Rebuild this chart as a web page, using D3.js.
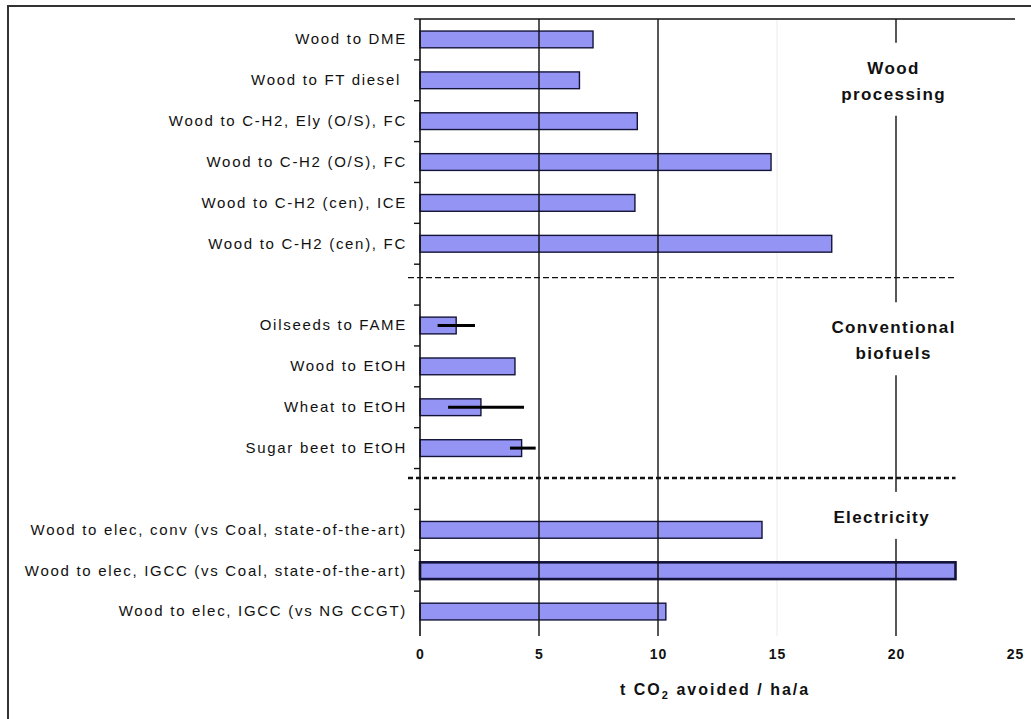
<!DOCTYPE html>
<html>
<head>
<meta charset="utf-8">
<script src="https://cdn.jsdelivr.net/npm/d3@7"></script>
<style>
  body { margin: 0; background: #fff; }
  svg { display: block; font-family: 'Liberation Sans', Arial, sans-serif; }
  .cat text { font-size: 15px; fill: #111; letter-spacing: 1.7px; white-space: pre; }
  .xaxis text { font-size: 14px; font-weight: bold; fill: #111; letter-spacing: 1px; }
  .group { font-size: 17px; font-weight: bold; fill: #111; letter-spacing: 1.4px; }
</style>
</head>
<body>
<div id="chart"></div>
<script>
// rows, top to bottom; empty strings are the spacer rows between groups
const labels = [
  'Wood to DME',
  'Wood to FT diesel ',
  'Wood to C-H2, Ely (O/S), FC',
  'Wood to C-H2 (O/S), FC',
  'Wood to C-H2 (cen), ICE',
  'Wood to C-H2 (cen), FC',
  '',
  'Oilseeds to FAME',
  'Wood to EtOH',
  'Wheat to EtOH',
  'Sugar beet to EtOH',
  '',
  'Wood to elec, conv (vs Coal, state-of-the-art)',
  'Wood to elec, IGCC (vs Coal, state-of-the-art)',
  'Wood to elec, IGCC (vs NG CCGT)'
]
const values = [7.27, 6.7, 9.13, 14.75, 9.03, 17.3, null, 1.52, 3.99, 2.56, 4.27, null, 14.37, 22.5, 10.33]
const errLow = [null, null, null, null, null, null, null, 0.74, null, 1.18, 3.78, null, null, null, null]
const errHigh = [null, null, null, null, null, null, null, 2.31, null, 4.37, 4.86, null, null, null, null]
const xTicks = [0, 5, 10, 15, 20, 25]
const gridValues = [5, 10, 20]
const groupNames = [['Wood', 'processing'], ['Conventional', 'biofuels'], ['Electricity']]
const groupStart = [0, 7, 12]
const separatorRows = [6, 11]
const separatorEnd = 22.5

const width = 1031
const height = 719
const margin = { top: 19, left: 420, right: 16, bottom: 87 }

const svg = d3.select('#chart').append('svg')
  .attr('width', width)
  .attr('height', height)

// outer frame (only top and left edges are inside the picture)
svg.append('path')
  .attr('d', `M8,${height}V6H${width}`)
  .attr('fill', 'none')
  .attr('stroke', '#333')
  .attr('stroke-width', 2)

const x = d3.scaleLinear()
  .domain([0, 25])
  .range([margin.left, width - margin.right])

const y = d3.scaleBand()
  .domain(d3.range(labels.length))
  .range([margin.top, height - margin.bottom])

const bw = y.bandwidth()
const barH = bw * 0.41
const axisBottomY = height - margin.bottom + 4

// faint line at 15
svg.append('line')
  .attr('x1', x(15)).attr('x2', x(15))
  .attr('y1', margin.top).attr('y2', axisBottomY)
  .attr('stroke', '#ececec')

// bars
const rows = labels.map((l, i) => ({ label: l, value: values[i], lo: errLow[i], hi: errHigh[i], i }))
svg.append('g')
  .selectAll('rect')
  .data(rows.filter(d => d.value !== null))
  .join('rect')
  .attr('x', x(0))
  .attr('y', d => y(d.i) + (bw - barH) / 2)
  .attr('width', d => x(d.value) - x(0))
  .attr('height', barH)
  .attr('fill', '#9494f4')
  .attr('stroke', '#14143a')
  .attr('stroke-width', d => d.value > 20 ? 2.6 : 1.4)

// error bars
svg.append('g')
  .selectAll('line')
  .data(rows.filter(d => d.lo !== null))
  .join('line')
  .attr('x1', d => x(d.lo))
  .attr('x2', d => x(d.hi))
  .attr('y1', d => y(d.i) + bw / 2)
  .attr('y2', d => y(d.i) + bw / 2)
  .attr('stroke', '#000')
  .attr('stroke-width', 3)

// vertical grid lines
svg.append('g')
  .selectAll('line')
  .data(gridValues)
  .join('line')
  .attr('x1', d => x(d)).attr('x2', d => x(d))
  .attr('y1', margin.top).attr('y2', axisBottomY)
  .attr('stroke', '#111')
  .attr('stroke-width', 1.4)

// group separators
svg.append('g')
  .selectAll('line')
  .data(separatorRows)
  .join('line')
  .attr('x1', x(0) - 12)
  .attr('x2', x(separatorEnd))
  .attr('y1', (d, i) => y(d) + bw * (i === 0 ? 0.33 : 0.23))
  .attr('y2', (d, i) => y(d) + bw * (i === 0 ? 0.33 : 0.23))
  .attr('stroke', '#111')
  .attr('stroke-width', (d, i) => i === 0 ? 1.3 : 2.6)
  .attr('stroke-dasharray', (d, i) => i === 0 ? '6,3' : '5,3')

// group labels, with a white box that cuts the 20 grid line
const groupOffset = [1.34, 0.69, 0.33] // in bands, baseline of the first line
const gl = svg.append('g')
groupNames.forEach((lines, gi) => {
  const g = gl.append('g')
  const t = g.append('text')
    .attr('class', 'group')
    .attr('text-anchor', 'middle')
  lines.forEach((s, li) => {
    t.append('tspan')
      .attr('x', gi === 2 ? x(19.4) : x(19.9))
      .attr('y', y(groupStart[gi]) + bw * groupOffset[gi] + li * 26)
      .text(s)
  })
  const b = t.node().getBBox()
  g.insert('rect', 'text')
    .attr('x', b.x - 4)
    .attr('y', b.y - 16)
    .attr('width', b.width + 8)
    .attr('height', b.height + 28)
    .attr('fill', '#fff')
})

// top border of the plot
svg.append('line')
  .attr('x1', x(0)).attr('x2', x(25))
  .attr('y1', margin.top).attr('y2', margin.top)
  .attr('stroke', '#111')
  .attr('stroke-width', 1.4)

// y axis line and ticks at band edges
svg.append('line')
  .attr('x1', x(0)).attr('x2', x(0))
  .attr('y1', margin.top).attr('y2', axisBottomY)
  .attr('stroke', '#111')
  .attr('stroke-width', 1.6)
svg.append('g')
  .selectAll('line')
  .data(d3.range(labels.length))
  .join('line')
  .attr('x1', x(0) - 6).attr('x2', x(0))
  .attr('y1', d => y(d)).attr('y2', d => y(d))
  .attr('stroke', '#111')
  .attr('stroke-width', 1.4)

// category labels
svg.append('g')
  .attr('class', 'cat')
  .attr('transform', `translate(${x(0)},0)`)
  .call(d3.axisLeft(y).tickSize(0).tickPadding(13).tickFormat(i => labels[i]))
  .call(g => g.select('.domain').remove())

// x axis labels
svg.append('g')
  .attr('class', 'xaxis')
  .attr('transform', `translate(0,${axisBottomY + 10})`)
  .call(d3.axisBottom(x).tickValues(xTicks).tickSize(0).tickPadding(3))
  .call(g => g.select('.domain').remove())

// axis title
const title = svg.append('text')
  .attr('x', x(12.4))
  .attr('y', 695)
  .attr('text-anchor', 'middle')
  .attr('font-size', 16)
  .attr('font-weight', 'bold')
  .attr('letter-spacing', 2)
  .attr('fill', '#111')
title.append('tspan').text('t CO')
title.append('tspan').attr('font-size', 11).attr('dy', 4).text('2')
title.append('tspan').attr('dy', -4).text(' avoided / ha/a')
</script>
</body>
</html>
